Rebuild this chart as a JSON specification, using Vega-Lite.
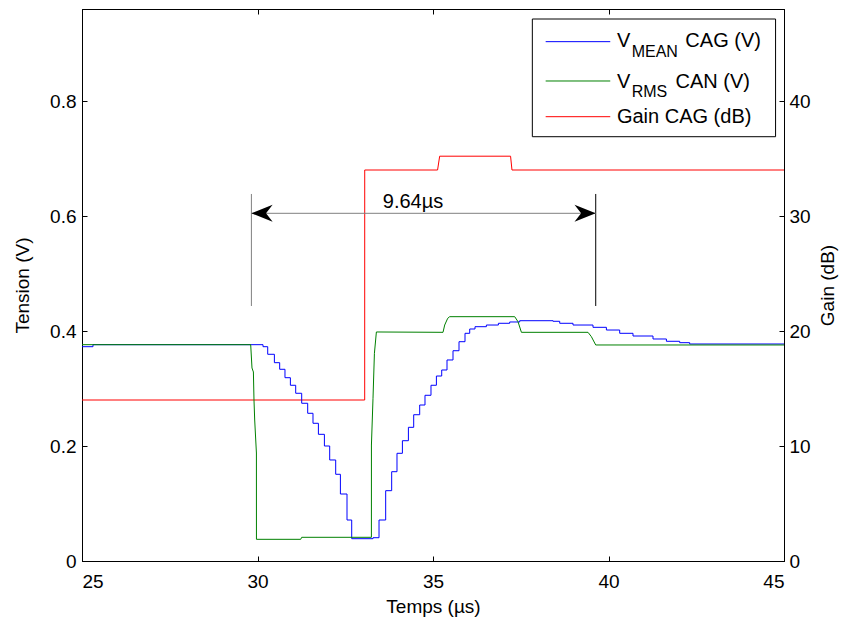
{
  "$schema": "https://vega.github.io/schema/vega-lite/v6.json",
  "width": 702,
  "height": 552,
  "autosize": "none",
  "padding": {"left": 82, "top": 9, "right": 57, "bottom": 62},
  "background": "white",
  "config": {
    "view": {"stroke": "black", "strokeWidth": 1},
    "font": "Liberation Sans",
    "axis": {
      "domainColor": "black", "tickColor": "black", "labelColor": "black", "titleColor": "black",
      "labelFont": "Liberation Sans", "titleFont": "Liberation Sans",
      "labelFontSize": 19, "titleFontSize": 19, "titleFontWeight": "normal",
      "grid": false, "tickSize": -5, "labelPadding": 11, "titlePadding": 6
    }
  },
  "datasets": {
    "mean": [
      {"t": 25, "v": 0.3727}, {"t": 25.313, "v": 0.3762}, {"t": 30.157, "v": 0.3727}, {"t": 30.291, "v": 0.3595},
      {"t": 30.481, "v": 0.3449}, {"t": 30.632, "v": 0.3334}, {"t": 30.783, "v": 0.3188}, {"t": 30.937, "v": 0.3056},
      {"t": 31.088, "v": 0.2917}, {"t": 31.259, "v": 0.2743}, {"t": 31.43, "v": 0.2569}, {"t": 31.581, "v": 0.2395},
      {"t": 31.735, "v": 0.2203}, {"t": 31.906, "v": 0.2}, {"t": 32.057, "v": 0.1757}, {"t": 32.228, "v": 0.1508},
      {"t": 32.362, "v": 0.1165}, {"t": 32.55, "v": 0.0713}, {"t": 32.684, "v": 0.0388}, {"t": 33.291, "v": 0.0405},
      {"t": 33.462, "v": 0.0713}, {"t": 33.652, "v": 0.1223}, {"t": 33.823, "v": 0.1553}, {"t": 33.974, "v": 0.1873},
      {"t": 34.128, "v": 0.2092}, {"t": 34.299, "v": 0.2325}, {"t": 34.45, "v": 0.2544}, {"t": 34.621, "v": 0.2713},
      {"t": 34.772, "v": 0.2882}, {"t": 34.943, "v": 0.3056}, {"t": 35.097, "v": 0.3217}, {"t": 35.248, "v": 0.3322},
      {"t": 35.399, "v": 0.3496}, {"t": 35.57, "v": 0.3657}, {"t": 35.741, "v": 0.3814}, {"t": 35.912, "v": 0.396},
      {"t": 36.046, "v": 0.4035}, {"t": 36.197, "v": 0.4075}, {"t": 36.521, "v": 0.4104}, {"t": 36.863, "v": 0.4134},
      {"t": 37.185, "v": 0.4157}, {"t": 37.47, "v": 0.4179}, {"t": 38.42, "v": 0.4169}, {"t": 38.61, "v": 0.4134},
      {"t": 38.989, "v": 0.4104}, {"t": 39.558, "v": 0.4064}, {"t": 39.94, "v": 0.4017}, {"t": 40.319, "v": 0.396},
      {"t": 40.698, "v": 0.3913}, {"t": 41.268, "v": 0.3861}, {"t": 41.65, "v": 0.3821}, {"t": 42.028, "v": 0.3797},
      {"t": 42.313, "v": 0.3774}, {"t": 45, "v": 0.3774}
    ],
    "rms": [
      {"t": 25, "v": 0.3762}, {"t": 29.806, "v": 0.3762}, {"t": 29.843, "v": 0.3357}, {"t": 29.883, "v": 0.3287},
      {"t": 29.9, "v": 0.28}, {"t": 29.92, "v": 0.2452}, {"t": 29.969, "v": 0.1878}, {"t": 29.97, "v": 0.0377},
      {"t": 31.231, "v": 0.0377}, {"t": 31.259, "v": 0.0412}, {"t": 33.245, "v": 0.0412}, {"t": 33.246, "v": 0.2017},
      {"t": 33.291, "v": 0.283}, {"t": 33.331, "v": 0.3612}, {"t": 33.387, "v": 0.3983}, {"t": 35.285, "v": 0.3977},
      {"t": 35.333, "v": 0.4104}, {"t": 35.419, "v": 0.4221}, {"t": 35.476, "v": 0.4249}, {"t": 37.328, "v": 0.4249},
      {"t": 37.422, "v": 0.4162}, {"t": 37.519, "v": 0.3977}, {"t": 39.416, "v": 0.3977}, {"t": 39.513, "v": 0.3901},
      {"t": 39.636, "v": 0.3757}, {"t": 45, "v": 0.3757}
    ],
    "gain": [
      {"t": 25, "g": 14}, {"t": 33.054, "g": 14}, {"t": 33.055, "g": 34}, {"t": 35.13, "g": 34},
      {"t": 35.19, "g": 35.2}, {"t": 37.21, "g": 35.2}, {"t": 37.25, "g": 34}, {"t": 45, "g": 34}
    ],
    "one": [{}]
  },
  "layer": [
    {
      "data": {"name": "gain"},
      "mark": {"type": "line", "color": "#ff0000", "strokeWidth": 1},
      "encoding": {
        "x": {"field": "t", "type": "quantitative", "scale": {"domain": [25, 45], "nice": false},
          "axis": {"orient": "bottom", "values": [25, 30, 35, 40, 45], "title": "Temps (µs)", "labelPadding": 16}},
        "y": {"field": "g", "type": "quantitative", "scale": {"domain": [0, 48], "nice": false},
          "axis": {"orient": "right", "values": [0, 10, 20, 30, 40], "title": "Gain (dB)", "titleAngle": 270, "titleBaseline": "top", "labelPadding": 10, "titlePadding": 8}}
      }
    },
    {
      "data": {"name": "mean"},
      "mark": {"type": "line", "color": "#0000ff", "strokeWidth": 1, "interpolate": "step-after"},
      "encoding": {
        "x": {"field": "t", "type": "quantitative", "axis": null},
        "y": {"field": "v", "type": "quantitative", "scale": {"domain": [0, 0.96], "nice": false},
          "axis": {"orient": "left", "values": [0, 0.2, 0.4, 0.6, 0.8], "format": "~g", "title": "Tension (V)", "titlePadding": 17}}
      }
    },
    {
      "data": {"name": "rms"},
      "mark": {"type": "line", "color": "#008000", "strokeWidth": 1},
      "encoding": {
        "x": {"field": "t", "type": "quantitative", "axis": null},
        "y": {"field": "v", "type": "quantitative", "scale": {"domain": [0, 0.96], "nice": false}, "axis": null}
      }
    },
    {
      "data": {"name": "one"},
      "mark": {"type": "rule", "color": "#808080", "strokeWidth": 1},
      "encoding": {"x": {"datum": 29.826, "axis": null}, "y": {"datum": 0.4435, "scale": {"domain": [0, 0.96], "nice": false}, "axis": null}, "y2": {"datum": 0.6383}}
    },
    {
      "data": {"name": "one"},
      "mark": {"type": "rule", "color": "#000000", "strokeWidth": 1},
      "encoding": {"x": {"datum": 39.636, "axis": null}, "y": {"datum": 0.4435, "scale": {"domain": [0, 0.96], "nice": false}, "axis": null}, "y2": {"datum": 0.6383}}
    },
    {
      "data": {"name": "one"},
      "mark": {"type": "rule", "color": "#808080", "strokeWidth": 1},
      "encoding": {"x": {"datum": 29.826, "axis": null}, "x2": {"datum": 39.636}, "y": {"datum": 0.6047, "scale": {"domain": [0, 0.96], "nice": false}, "axis": null}}
    },
    {
      "data": {"name": "one"},
      "mark": {"type": "point", "shape": "M0,0L1,-0.4L0.69,0L1,0.4Z", "filled": true, "color": "black", "opacity": 1, "size": 1800, "strokeWidth": 0},
      "encoding": {"x": {"datum": 29.826, "axis": null}, "y": {"datum": 0.6047, "scale": {"domain": [0, 0.96], "nice": false}, "axis": null}}
    },
    {
      "data": {"name": "one"},
      "mark": {"type": "point", "shape": "M0,0L-1,-0.4L-0.69,0L-1,0.4Z", "filled": true, "color": "black", "opacity": 1, "size": 1800, "strokeWidth": 0},
      "encoding": {"x": {"datum": 39.636, "axis": null}, "y": {"datum": 0.6047, "scale": {"domain": [0, 0.96], "nice": false}, "axis": null}}
    },
    {
      "data": {"name": "one"},
      "mark": {"type": "text", "text": "9.64µs", "font": "Liberation Sans", "fontSize": 20, "align": "center", "baseline": "alphabetic", "color": "black"},
      "encoding": {"x": {"datum": 34.43, "axis": null}, "y": {"datum": 0.6134, "scale": {"domain": [0, 0.96], "nice": false}, "axis": null}}
    },
    {
      "data": {"name": "one"},
      "mark": {"type": "rect", "fill": "white", "stroke": "black", "strokeWidth": 1},
      "encoding": {"x": {"datum": 37.83, "axis": null}, "x2": {"datum": 44.76}, "y": {"datum": 0.7379, "scale": {"domain": [0, 0.96], "nice": false}, "axis": null}, "y2": {"datum": 0.9426}}
    },
    {
      "data": {"name": "one"},
      "mark": {"type": "rule", "color": "#0000ff", "strokeWidth": 1},
      "encoding": {"x": {"datum": 38.21, "axis": {"orient": "top", "values": [25, 30, 35, 40, 45], "labels": false, "title": null}}, "x2": {"datum": 40.05}, "y": {"datum": 0.9032, "scale": {"domain": [0, 0.96], "nice": false}, "axis": null}}
    },
    {
      "data": {"name": "one"},
      "mark": {"type": "rule", "color": "#008000", "strokeWidth": 1},
      "encoding": {"x": {"datum": 38.21, "axis": null}, "x2": {"datum": 40.05}, "y": {"datum": 0.8348, "scale": {"domain": [0, 0.96], "nice": false}, "axis": null}}
    },
    {
      "data": {"name": "one"},
      "mark": {"type": "rule", "color": "#ff0000", "strokeWidth": 1},
      "encoding": {"x": {"datum": 38.21, "axis": null}, "x2": {"datum": 40.05}, "y": {"datum": 0.7727, "scale": {"domain": [0, 0.96], "nice": false}, "axis": null}}
    },
    {
      "data": {"name": "one"},
      "mark": {"type": "text", "text": "V", "font": "Liberation Sans", "fontSize": 20, "align": "left", "baseline": "alphabetic", "color": "black"},
      "encoding": {"x": {"datum": 40.24, "axis": null}, "y": {"datum": 0.8943, "scale": {"domain": [0, 0.96], "nice": false}, "axis": null}}
    },
    {
      "data": {"name": "one"},
      "mark": {"type": "text", "text": "MEAN", "font": "Liberation Sans", "fontSize": 16, "align": "left", "baseline": "alphabetic", "color": "black"},
      "encoding": {"x": {"datum": 40.66, "axis": null}, "y": {"datum": 0.877, "scale": {"domain": [0, 0.96], "nice": false}, "axis": null}}
    },
    {
      "data": {"name": "one"},
      "mark": {"type": "text", "text": "CAG (V)", "font": "Liberation Sans", "fontSize": 20, "align": "left", "baseline": "alphabetic", "color": "black"},
      "encoding": {"x": {"datum": 42.19, "axis": null}, "y": {"datum": 0.8943, "scale": {"domain": [0, 0.96], "nice": false}, "axis": null}}
    },
    {
      "data": {"name": "one"},
      "mark": {"type": "text", "text": "V", "font": "Liberation Sans", "fontSize": 20, "align": "left", "baseline": "alphabetic", "color": "black"},
      "encoding": {"x": {"datum": 40.24, "axis": null}, "y": {"datum": 0.8221, "scale": {"domain": [0, 0.96], "nice": false}, "axis": null}}
    },
    {
      "data": {"name": "one"},
      "mark": {"type": "text", "text": "RMS", "font": "Liberation Sans", "fontSize": 16, "align": "left", "baseline": "alphabetic", "color": "black"},
      "encoding": {"x": {"datum": 40.66, "axis": null}, "y": {"datum": 0.8075, "scale": {"domain": [0, 0.96], "nice": false}, "axis": null}}
    },
    {
      "data": {"name": "one"},
      "mark": {"type": "text", "text": "CAN (V)", "font": "Liberation Sans", "fontSize": 20, "align": "left", "baseline": "alphabetic", "color": "black"},
      "encoding": {"x": {"datum": 41.91, "axis": null}, "y": {"datum": 0.8221, "scale": {"domain": [0, 0.96], "nice": false}, "axis": null}}
    },
    {
      "data": {"name": "one"},
      "mark": {"type": "text", "text": "Gain CAG (dB)", "font": "Liberation Sans", "fontSize": 20, "align": "left", "baseline": "alphabetic", "color": "black"},
      "encoding": {"x": {"datum": 40.24, "axis": null}, "y": {"datum": 0.7617, "scale": {"domain": [0, 0.96], "nice": false}, "axis": null}}
    }
  ],
  "resolve": {"scale": {"y": "independent"}}
}
